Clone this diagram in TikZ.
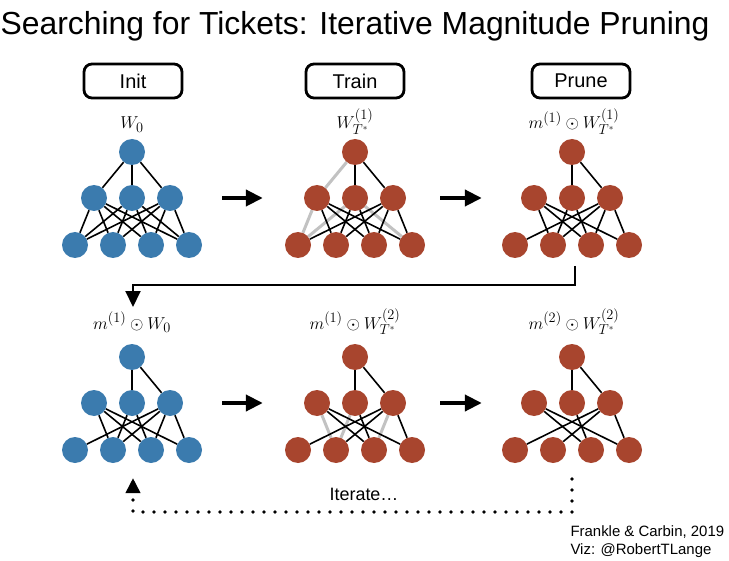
\documentclass[tikz,border=0pt]{standalone}
\usepackage{fontspec}
\setmainfont{Liberation Sans}
\usepackage{tikz}
\usetikzlibrary{positioning, arrows.meta, backgrounds}
\definecolor{netblue}{HTML}{3B7BAE}
\definecolor{netred}{HTML}{A8452E}
\definecolor{cutgray}{HTML}{C2C2C2}

\begin{document}
\begin{tikzpicture}[x=1bp, y=-1bp,
  unit/.style={circle, minimum size=26bp, inner sep=0pt},
  wt/.style={draw=black, line width=1.6bp},
  cut/.style={draw=cutgray, line width=3bp},
  stage/.style={draw, line width=2.8bp, rounded corners=8bp,
                minimum width=98bp, minimum height=34bp,
                font=\fontsize{20}{22}\selectfont},
  lbl/.style={font=\fontsize{19}{22}\selectfont, anchor=base},
  go/.style={-{Triangle[length=17bp, width=16bp]}, line width=4bp},
  back/.style={-{Triangle[length=16bp, width=15bp]}, line width=2bp},
  again/.style={-{Triangle[length=15bp, width=14bp]}, line width=3.6bp,
                line cap=round, dash pattern=on 0bp off 11bp}
]
  \useasboundingbox (0,0) rectangle (729,561);

  \node[font=\fontsize{32}{35}\selectfont, anchor=base] (title) at (355,35)
    {Searching for Tickets: Iterative Magnitude Pruning};

  \node[stage] (init-box) at (133,81) {Init};
  \node[stage] (train-box) at (355,81) {Train};
  \node[stage] (prune-box) at (581,81) {Prune};

  \node[lbl] (init-w) at (132,129) {$W_0$};
  \node[lbl] (train-w) at (355,129) {$W^{(1)}_{T^*}$};
  \node[lbl] (prune-w) at (574,129) {$m^{(1)}\odot W^{(1)}_{T^*}$};
  \node[lbl] (reinit-w) at (132,329) {$m^{(1)}\odot W_0$};
  \node[lbl] (retrain-w) at (355,329) {$m^{(1)}\odot W^{(2)}_{T^*}$};
  \node[lbl] (reprune-w) at (574,329) {$m^{(2)}\odot W^{(2)}_{T^*}$};

  % the six nets
  \foreach \net/\cx/\cy/\col in {init/132/152/netblue, train/355/152/netred,
      prune/572/152/netred, reinit/132/357/netblue,
      retrain/355/357/netred, reprune/572/357/netred} {
    \node[unit, fill=\col] (\net-t) at (\cx,\cy) {};
    \foreach \i/\dx in {1/-38, 2/0, 3/38}
      \node[unit, fill=\col] (\net-m\i) at (\cx+\dx,\cy+46) {};
    \foreach \j/\dx in {1/-57, 2/-19, 3/19, 4/57}
      \node[unit, fill=\col] (\net-b\j) at (\cx+\dx,\cy+93) {};
  }

  \begin{scope}[on background layer]
    % pruned after round one
    \foreach \a/\b in {t/m1, m1/b1, m2/b1, m2/b4} {
      \draw[wt] (init-\a) -- (init-\b);
      \draw[cut] (train-\a) -- (train-\b);
    }
    % pruned after round two
    \foreach \a/\b in {m1/b2, m2/b2, m3/b3} {
      \foreach \net in {init, train, prune, reinit}
        \draw[wt] (\net-\a) -- (\net-\b);
      \draw[cut] (retrain-\a) -- (retrain-\b);
    }
    % kept
    \foreach \a/\b in {t/m2, t/m3, m1/b3, m1/b4, m2/b3, m3/b1, m3/b2, m3/b4}
      \foreach \net in {init, train, prune, reinit, retrain, reprune}
        \draw[wt] (\net-\a) -- (\net-\b);
  \end{scope}

  \draw[go, shorten <=39bp, shorten >=41bp] (init-m3) -- (train-m1);
  \draw[go, shorten <=34bp, shorten >=39bp] (train-m3) -- (prune-m1);
  \draw[go, shorten <=39bp, shorten >=41bp] (reinit-m3) -- (retrain-m1);
  \draw[go, shorten <=34bp, shorten >=39bp] (retrain-m3) -- (reprune-m1);

  \coordinate (prune-foot) at (575,266);
  \coordinate (reinit-head) at (133,307);
  \draw[back] (prune-foot) -- ++(0,19) -| (reinit-head);

  \coordinate (reprune-foot) at (572,479);
  \coordinate (reinit-foot) at (133,478);
  \draw[again] (reprune-foot) -- ++(0,33) -| (reinit-foot);

  \node[font=\fontsize{18}{20}\selectfont, anchor=base] (iter) at (364,500) {Iterate\ldots};
  \node[font=\fontsize{15}{18}\selectfont, align=left, anchor=base west] (cite) at (567,554)
    {Frankle \& Carbin, 2019\\Viz: @RobertTLange};
\end{tikzpicture}
\end{document}
